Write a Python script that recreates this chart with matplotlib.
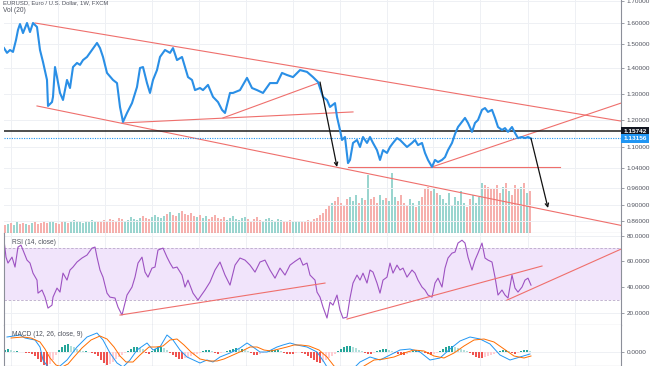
import matplotlib
matplotlib.use("Agg")
import matplotlib.pyplot as plt
import numpy as np

# weekly closes (x = bar index)
price_week = [0, 3, 6, 9, 12, 14, 16, 19, 23, 26, 29, 33, 36, 39, 43, 44, 48, 49, 51, 53,
              56, 59, 63, 66, 69, 73, 76, 79, 83, 88, 93, 96, 99, 103, 109, 113, 116, 119, 123, 128,
              133, 136, 139, 143, 146, 149, 153, 156, 161, 166, 169, 173, 178, 181, 184, 188, 191, 196, 199, 204,
              209, 214, 218, 221, 226, 229, 236, 243, 248, 253, 259, 266, 273, 278, 283, 289, 296, 303, 309, 314,
              319, 323, 326, 331, 333, 336, 338, 341, 344, 346, 349, 353, 356, 359, 363, 366, 369, 373, 376, 379,
              383, 386, 389, 393, 396, 399, 403, 408, 411, 414, 418, 421, 424, 428, 431, 434, 438, 441, 444, 448,
              451, 454, 458, 461, 464, 468, 471, 474, 478, 481, 484, 488, 491, 494, 498, 501, 504, 508, 511, 514,
              518, 521, 524, 527]
price_close = [1.483, 1.463, 1.475, 1.467, 1.519, 1.567, 1.595, 1.552, 1.600, 1.557, 1.600, 1.581, 1.475, 1.425, 1.354, 1.254, 1.269, 1.289, 1.404, 1.365,
               1.304, 1.277, 1.354, 1.323, 1.404, 1.421, 1.413, 1.433, 1.446, 1.475, 1.505, 1.483, 1.446, 1.381, 1.354, 1.342, 1.250, 1.193, 1.227, 1.265,
               1.327, 1.400, 1.404, 1.342, 1.304, 1.354, 1.392, 1.446, 1.475, 1.463, 1.483, 1.433, 1.446, 1.404, 1.365, 1.354, 1.315, 1.323, 1.315, 1.335,
               1.289, 1.269, 1.239, 1.227, 1.304, 1.304, 1.315, 1.362, 1.323, 1.315, 1.304, 1.342, 1.342, 1.381, 1.373, 1.365, 1.392, 1.385, 1.365, 1.346,
               1.289, 1.277, 1.250, 1.265, 1.212, 1.163, 1.126, 1.137, 1.054, 1.063, 1.115, 1.126, 1.100, 1.137, 1.115, 1.137, 1.115, 1.091, 1.063, 1.091,
               1.083, 1.100, 1.115, 1.133, 1.126, 1.115, 1.100, 1.115, 1.126, 1.107, 1.115, 1.083, 1.063, 1.043, 1.063, 1.057, 1.063, 1.071, 1.091, 1.115,
               1.148, 1.174, 1.193, 1.208, 1.189, 1.156, 1.189, 1.200, 1.239, 1.246, 1.231, 1.239, 1.208, 1.174, 1.163, 1.170, 1.156, 1.174, 1.152, 1.133,
               1.137, 1.133, 1.137, 1.1316]
last_price = 1.13156
level_price = 1.15742

# drawn trend lines (bar index, price)
upper_x, upper_y = [31, 617], [1.600, 1.196]
lower_x, lower_y = [33, 617], [1.254, 0.849]
sup1_x, sup1_y = [118, 349], [1.189, 1.231]
sup2_x, sup2_y = [219, 314], [1.208, 1.342]
flat_x, flat_y = [344, 556], [1.043, 1.043]
rise_x, rise_y = [428, 617], [1.043, 1.265]
arrows = [((316, 1.346), (333, 1.043)), ((527, 1.1316), (544, 0.8925))]

# volume, one bar every 3 weeks
vol_week = list(range(1, 527, 3))
vol_k = [8, 9, 10, 8, 11, 9, 10, 9, 8, 10, 11, 9, 10, 12, 10, 11, 12, 10, 9, 11, 12, 10, 11, 13, 12, 11, 10, 12, 11, 13, 12, 11,
         12, 13, 11, 14, 13, 12, 15, 14, 12, 13, 16, 14, 13, 15, 17, 15, 14, 16, 18, 16, 15, 17, 19, 21, 18, 17, 20, 22, 19, 18, 20, 17, 16, 18,
         15, 17, 14, 16, 18, 15, 14, 16, 13, 15, 17, 14, 13, 15, 16, 14, 12, 14, 16, 13, 12, 14, 15, 13, 12, 14, 13, 12, 11, 13, 12, 11, 12,
         12, 11, 13, 12, 14, 15, 18, 20, 24, 28, 30, 32, 36, 30, 28, 34, 36, 32, 38, 30, 35, 33, 58,
         34, 36, 30, 38, 33, 35, 32, 60, 36, 32, 38, 30, 28, 34, 30, 26, 32, 36, 45, 46, 42, 44, 40, 38,
         34, 30, 40, 28, 36, 32, 42, 30, 26, 34, 38, 30, 36, 50, 48, 46, 44, 44, 48, 40, 46, 50, 42, 38, 48, 44, 46, 50, 40, 42]

# RSI(14)
rsi_week = [0, 2, 4, 8, 11, 14, 17, 19, 23, 26, 29, 33, 34, 38, 41, 44, 48, 49, 53, 56,
            59, 63, 66, 69, 73, 78, 83, 88, 91, 93, 96, 99, 103, 106, 111, 114, 118, 121, 123, 128,
            131, 134, 138, 141, 144, 148, 151, 154, 159, 163, 166, 169, 173, 178, 181, 184, 189, 194, 196, 201,
            206, 211, 216, 221, 226, 231, 236, 241, 246, 251, 256, 261, 266, 271, 276, 281, 286, 291, 296, 299,
            303, 306, 311, 313, 316, 319, 323, 326, 329, 333, 336, 339, 343, 346, 349, 353, 356, 359, 363, 366,
            369, 373, 376, 379, 383, 386, 389, 393, 396, 399, 403, 408, 411, 414, 418, 421, 424, 428, 431, 434,
            438, 441, 444, 448, 451, 454, 458, 461, 464, 468, 471, 474, 478, 481, 484, 488, 491, 494, 498, 501,
            504, 508, 511, 514, 518, 521, 524, 527]
rsi_val = [76.5, 63.3, 58.7, 63.3, 55.6, 71.1, 72.6, 68.8, 61.0, 58.7, 50.9, 45.5, 35.4, 37.8, 32.3, 23.8, 26.1, 32.3, 39.3, 36.2,
           50.9, 45.5, 53.3, 55.6, 59.5, 62.6, 64.9, 70.3, 71.1, 63.3, 53.3, 47.8, 35.4, 32.3, 31.6, 24.6, 18.4, 27.7, 33.9, 40.1,
           47.8, 58.7, 63.3, 51.7, 47.8, 54.8, 55.6, 68.8, 70.3, 63.3, 58.7, 54.8, 55.6, 49.4, 40.1, 45.5, 35.4, 30.0, 32.3, 37.8,
           44.0, 53.3, 59.5, 49.4, 41.6, 57.1, 62.6, 61.0, 57.1, 51.7, 59.5, 61.0, 53.3, 47.0, 54.8, 49.4, 57.1, 60.0, 62.6, 57.1,
           58.7, 49.4, 45.5, 36.2, 32.3, 24.6, 16.1, 28.4, 26.1, 33.9, 22.2, 16.0, 16.8, 31.6, 43.2, 49.4, 45.5, 50.9, 43.2, 53.3,
           51.7, 43.2, 35.4, 45.5, 47.8, 58.7, 50.9, 57.1, 53.3, 54.8, 47.8, 53.3, 50.9, 45.5, 40.1, 37.8, 33.9, 32.3, 43.2, 47.0,
           40.1, 54.8, 62.6, 66.4, 67.2, 74.2, 76.4, 74.2, 63.3, 53.3, 61.0, 66.4, 74.2, 62.6, 61.0, 59.5, 47.8, 33.9, 37.8, 33.9,
           31.6, 49.4, 39.3, 36.2, 40.1, 45.5, 47.0, 41.6]
rsi1_x, rsi1_y = [116, 321], [18.4, 43.2]
rsi2_x, rsi2_y = [343, 538], [15.3, 56.4]
rsi3_x, rsi3_y = [503, 617], [30.0, 69.5]

# MACD(12, 26, 9)
macd_week = [3, 16, 21, 31, 36, 39, 44, 50, 56, 63, 73, 83, 93, 99, 106, 113, 119, 126, 133, 143,
             149, 156, 163, 169, 176, 183, 196, 203, 209, 216, 226, 236, 243, 249, 256, 263, 273, 279, 286, 293,
             303, 313, 320, 326, 336, 346, 356, 366, 376, 386, 396, 406, 416, 426, 436, 446, 456, 466, 476, 486,
             496, 506, 516, 526]
macd_val = [0.030, 0.034, 0.028, 0.024, 0.010, -0.016, -0.030, -0.034, -0.028, -0.016, 0.010, 0.030, 0.038, 0.024, -0.002, -0.022, -0.030, -0.016, 0.004, 0.018,
            0.004, 0.010, 0.034, 0.024, 0.004, -0.010, -0.022, -0.016, -0.020, -0.010, -0.002, 0.008, 0.018, 0.010, 0.000, 0.000, 0.010, 0.014, 0.018, 0.014,
            0.010, 0.000, -0.020, -0.040, -0.050, -0.040, -0.020, -0.010, -0.016, -0.006, 0.004, 0.006, 0.000, -0.016, -0.012, 0.006, 0.022, 0.030, 0.026, 0.016,
            -0.006, -0.016, -0.010, -0.004]
signal_week = [7, 19, 27, 36, 41, 46, 52, 58, 64, 70, 78, 87, 96, 103, 110, 116, 122, 129, 136, 145,
               152, 159, 166, 173, 180, 187, 196, 205, 213, 220, 229, 238, 246, 253, 260, 267, 275, 283, 290, 297,
               305, 315, 323, 330, 340, 350, 360, 370, 380, 390, 400, 410, 420, 430, 440, 450, 460, 470, 480, 490,
               500, 510, 520, 527]
signal_val = [0.028, 0.030, 0.028, 0.020, 0.006, -0.012, -0.026, -0.030, -0.024, -0.010, 0.008, 0.024, 0.032, 0.026, 0.010, -0.008, -0.020, -0.020, -0.006, 0.010,
              0.010, 0.012, 0.024, 0.026, 0.014, 0.000, -0.014, -0.018, -0.018, -0.014, -0.006, 0.002, 0.010, 0.010, 0.004, 0.002, 0.006, 0.010, 0.014, 0.014,
              0.012, 0.004, -0.010, -0.028, -0.040, -0.040, -0.028, -0.016, -0.014, -0.010, -0.002, 0.004, 0.002, -0.008, -0.012, -0.002, 0.012, 0.024, 0.026, 0.020,
              0.006, -0.008, -0.012, -0.008]
hist_week = list(range(1, 527, 3))
hist_val = np.array([2, 3, 2, 1, 1, 0.5, 0.5, -0.5, -1, -2, -4, -7, -10, -13, -15, -12, -8, -3, 2, 5, 7, 8, 6, 5, 3, 2, 1, 1, 0.5, -1,
                     -2, -4, -8, -11, -13, -12, -10, -7, -5, -3, -1, 1, 3, 5, 5, 4, 3, -1, -2, 1, 3, 5, 5, 4, 2, -1, -3, -5, -7, -7,
                     -6, -5, -4, -3, -2, -1, 1, 2, 2, 1, -1, -2, -1, 0.5, 1, 2, 3, 4, 3, 3, 2, 1, -1, -3, -3, -2, -1, 0.5, 1, 2,
                     2, 2, 1, -1, -2, -2, -2, -1, 0.5, -1, -2, -4, -6, -8, -10, -11, -10, -8, -6, -4, -2, 1, 3, 5, 6, 6, 5, 4, 2, 1,
                     -1, -2, -2, -1, 1, 2, 3, 3, 2, 1, -1, -2, -3, -3, -2, -1, 1, 2, 2, 1, -1, -2, -3, -2, -1, 1, 3, 5, 6, 6,
                     5, 4, 3, 2, 1, -1, -3, -5, -6, -6, -5, -4, -3, -2, -1, 1, 2, 2, 1, -1, -2, -1, 1, 2, 2, 1]) * 0.002

price_ticks = [0.86, 0.90, 0.96, 1.04, 1.10, 1.20, 1.30, 1.40, 1.50, 1.60, 1.70]
year_marks = [7, 54, 101, 148, 195, 242, 289, 336, 383, 429, 476, 524, 571]

# ---- layout (pixel boxes of the 654x366 screenshot) ----
W, H = 654, 366
def box(x0, y0, x1, y1):
    return [x0 / W, 1 - y1 / H, (x1 - x0) / W, (y1 - y0) / H]

# the price axis of the screenshot is not linear; map price -> screen position
scale_p = [0.80, 0.86, 0.90, 0.96, 1.04, 1.10, 1.20, 1.30, 1.40, 1.50, 1.60, 1.70, 1.80]
scale_s = [-245, -221, -205, -188, -168, -147, -120, -94, -68, -44, -23, -1, 21]
def fwd(p):
    return np.interp(p, scale_p, scale_s)
def inv(s):
    return np.interp(s, scale_s, scale_p)

plt.rcParams["font.family"] = ["Liberation Sans", "DejaVu Sans"]
TXT = "#50535e"
AXC = "#8c8f99"
GRID = "#eef0f4"
RED = "#ef6f6c"

fig = plt.figure(figsize=(W / 100, H / 100), dpi=100)
ax_vol = fig.add_axes(box(4, 0, 621, 233))
ax = fig.add_axes(box(4, 0, 621, 233), sharex=ax_vol)
ax_rsi = fig.add_axes(box(4, 233, 621, 325), sharex=ax_vol)
ax_macd = fig.add_axes(box(4, 325, 621, 366), sharex=ax_vol)
ax.patch.set_visible(False)

for a in (ax_vol, ax, ax_rsi, ax_macd):
    a.set_xlim(0, 617)
    a.set_xticks(year_marks)
    a.tick_params(axis="x", bottom=False, labelbottom=False)
    for s in a.spines.values():
        s.set_color(AXC)
        s.set_linewidth(0.8)
    a.spines["top"].set_visible(False)
    a.yaxis.tick_right()
    a.tick_params(axis="y", labelsize=4.6, colors=AXC, labelcolor=TXT, length=2.5, width=0.6, pad=1.5)

# volume
vol_colors = []
for w in vol_week:
    up = np.interp(w + 1.5, price_week, price_close) >= np.interp(w - 1.5, price_week, price_close)
    vol_colors.append("#9ad5cf" if up else "#f6b0ad")
ax_vol.bar(vol_week, vol_k, width=2.2, color=vol_colors, linewidth=0)
ax_vol.set_ylim(0, 233)
ax_vol.set_yticks([])
ax_vol.grid(axis="x", color=GRID, linewidth=0.7)
ax_vol.set_axisbelow(True)
for s in ("left", "right", "bottom"):
    ax_vol.spines[s].set_visible(False)

# price
ax.set_yscale("function", functions=(fwd, inv))
ax.set_ylim(0.83, 1.7045)
ax.set_yticks(price_ticks)
ax.set_yticklabels(["%.5f" % t for t in price_ticks])
ax.yaxis.set_minor_locator(matplotlib.ticker.NullLocator())
ax.grid(axis="y", color=GRID, linewidth=0.7)
ax.set_axisbelow(True)
for xs, ys in [(upper_x, upper_y), (lower_x, lower_y), (sup1_x, sup1_y),
               (sup2_x, sup2_y), (flat_x, flat_y), (rise_x, rise_y)]:
    ax.plot(xs, ys, color=RED, linewidth=0.8)
ax.axhline(level_price, color="#1e1e1e", linewidth=1.1)
ax.axhline(last_price, color="#2196f3", linewidth=0.8, linestyle=(0, (1, 1.2)))
ax.plot(price_week, price_close, color="#2a8fe6", linewidth=1.5, solid_joinstyle="round")
for (x0, y0), (x1, y1) in arrows:
    ax.annotate("", xy=(x1, y1), xytext=(x0, y0),
                arrowprops=dict(arrowstyle="->", color="#111111", lw=0.9, mutation_scale=6,
                                shrinkA=0, shrinkB=0))
for val, fc in [(level_price, "#131722"), (last_price, "#2196f3")]:
    ax.annotate("%.5f" % val, xy=(1, val), xycoords=("axes fraction", "data"),
                xytext=(1.5, 0), textcoords="offset points", ha="left", va="center",
                fontsize=4.6, color="white", fontweight="bold",
                bbox=dict(boxstyle="square,pad=0.35", fc=fc, ec="none"))
ax.spines["left"].set_visible(False)

# RSI
ax_rsi.axhspan(30, 70, color="#f1e4fb", linewidth=0)
for lv in (30, 70):
    ax_rsi.axhline(lv, color="#b9a9c9", linewidth=0.6, linestyle=(0, (3, 2)))
ax_rsi.plot(rsi_week, rsi_val, color="#9d52c2", linewidth=0.8)
for xs, ys in [(rsi1_x, rsi1_y), (rsi2_x, rsi2_y), (rsi3_x, rsi3_y)]:
    ax_rsi.plot(xs, ys, color=RED, linewidth=0.8)
ax_rsi.set_ylim(10.7, 82)
ax_rsi.set_yticks([20, 40, 60, 80])
ax_rsi.set_yticklabels(["%.4f" % t for t in [20, 40, 60, 80]])
ax_rsi.grid(color=GRID, linewidth=0.7)
ax_rsi.set_axisbelow(True)
ax_rsi.text(8 / 617, 0.9, "RSI (14, close)", transform=ax_rsi.transAxes, fontsize=4.8, color=TXT, va="center")

# MACD
hist_colors = []
prev = 0.0
for h in hist_val:
    if h >= 0:
        hist_colors.append("#26a69a" if h >= prev else "#b2dfdb")
    else:
        hist_colors.append("#ef5350" if h <= prev else "#ffcdd2")
    prev = h
ax_macd.bar(hist_week, hist_val, width=2.4, color=hist_colors, linewidth=0)
ax_macd.plot(macd_week, macd_val, color="#2196f3", linewidth=0.7)
ax_macd.plot(signal_week, signal_val, color="#ff6d00", linewidth=0.7)
ax_macd.set_ylim(-0.028, 0.054)
ax_macd.set_yticks([0.0])
ax_macd.set_yticklabels(["0.0000"])
ax_macd.grid(color=GRID, linewidth=0.7)
ax_macd.set_axisbelow(True)
ax_macd.text(8 / 617, 0.78, "MACD (12, 26, close, 9)", transform=ax_macd.transAxes, fontsize=4.8, color=TXT, va="center")

fig.text(3 / W, 1 - 10 / H, "Vol (20)", fontsize=4.8, color=TXT, va="center")
fig.text(3 / W, 1.0, "EURUSD, Euro / U.S. Dollar, 1W, FXCM", fontsize=4.2, color=TXT, va="top")

fig.savefig("out.png", dpi=100)
